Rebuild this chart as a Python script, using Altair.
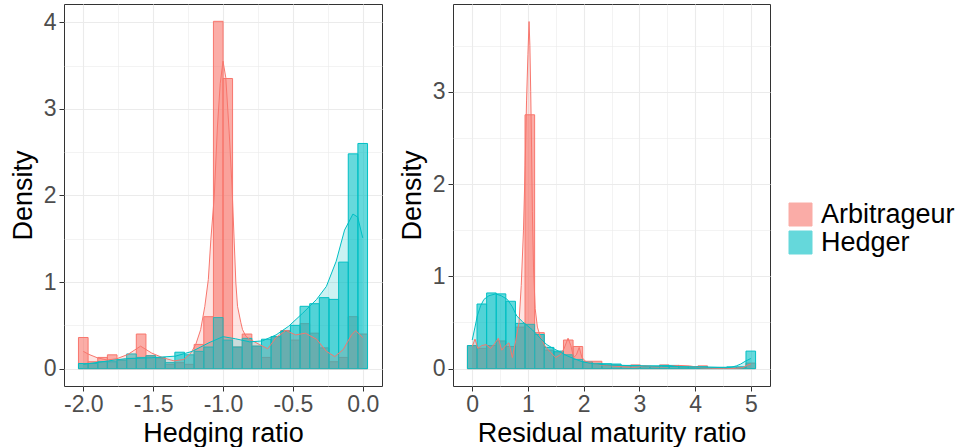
import altair as alt
import pandas as pd

groups = ["Arbitrageur", "Hedger"]
group_colors = ["#F8766D", "#00BFC4"]

# ---------------- Hedging ratio panel ----------------
hr_bin_centers = [-2.000, -1.931, -1.862, -1.793, -1.724, -1.655, -1.586, -1.517, -1.448, -1.379,
                  -1.310, -1.241, -1.172, -1.103, -1.034, -0.966, -0.897, -0.828, -0.759, -0.690,
                  -0.621, -0.552, -0.483, -0.414, -0.345, -0.276, -0.207, -0.138, -0.069, 0.000]
hr_arb = [0.36, 0.08, 0.13, 0.16, 0.10, 0.12, 0.40, 0.15, 0.12, 0.05,
          0.07, 0.05, 0.28, 0.60, 4.01, 3.35, 0.25, 0.40, 0.26, 0.13,
          0.37, 0.44, 0.33, 0.52, 0.41, 0.24, 0.08, 0.13, 0.60, 0.40]
hr_hed = [0.06, 0.06, 0.08, 0.08, 0.10, 0.17, 0.13, 0.15, 0.13, 0.07,
          0.19, 0.16, 0.20, 0.25, 0.59, 0.33, 0.25, 0.35, 0.26, 0.34,
          0.37, 0.43, 0.50, 0.72, 0.75, 0.82, 0.80, 1.23, 2.48, 2.60]

hr_arb_dens_x = [-2.0, -1.96, -1.90, -1.83, -1.76, -1.68, -1.59, -1.51, -1.43, -1.35,
                 -1.28, -1.23, -1.195, -1.16, -1.13, -1.105, -1.087, -1.063, -1.04, -1.02,
                 -1.0, -0.98, -0.955, -0.936, -0.908, -0.896, -0.872, -0.86, -0.836, -0.81,
                 -0.74, -0.68, -0.62, -0.55, -0.48, -0.41, -0.33, -0.26, -0.20, -0.14,
                 -0.08, -0.05, 0.0]
hr_arb_dens_y = [0.20, 0.165, 0.126, 0.10, 0.115, 0.165, 0.26, 0.18, 0.126, 0.09,
                 0.107, 0.18, 0.28, 0.45, 0.72, 1.03, 1.49, 1.98, 2.79, 3.29,
                 3.55, 3.36, 2.71, 2.12, 0.99, 0.72, 0.53, 0.45, 0.375, 0.34,
                 0.28, 0.23, 0.36, 0.44, 0.39, 0.41, 0.34, 0.20, 0.14, 0.22,
                 0.39, 0.44, 0.36]
hr_hed_dens_x = [-2.0, -1.82, -1.70, -1.51, -1.34, -1.22, -1.10, -1.0, -0.91, -0.81,
                 -0.72, -0.62, -0.53, -0.43, -0.33, -0.26, -0.19, -0.13, -0.07, -0.036, 0.0]
hr_hed_dens_y = [0.05, 0.09, 0.115, 0.126, 0.145, 0.20, 0.30, 0.37, 0.345, 0.31,
                 0.32, 0.39, 0.49, 0.64, 0.80, 0.95, 1.24, 1.60, 1.785, 1.75, 1.51]

# ---------------- Residual maturity ratio panel ----------------
rm_bin_centers = [0.000, 0.172, 0.345, 0.517, 0.690, 0.862, 1.034, 1.207, 1.379, 1.552,
                  1.724, 1.897, 2.069, 2.241, 2.414, 2.586, 2.759, 2.931, 3.103, 3.276,
                  3.448, 3.621, 3.793, 3.966, 4.138, 4.310, 4.483, 4.655, 4.828, 5.000]
rm_arb = [0.25, 0.22, 0.25, 0.30, 0.24, 0.45, 2.75, 0.39, 0.20, 0.18,
          0.31, 0.24, 0.08, 0.08, 0.04, 0.04, 0.03, 0.04, 0.02, 0.02,
          0.04, 0.03, 0.01, 0.02, 0.03, 0.005, 0.005, 0.005, 0.01, 0.06]
rm_hed = [0.25, 0.70, 0.82, 0.81, 0.73, 0.49, 0.48, 0.37, 0.23, 0.19,
          0.15, 0.10, 0.07, 0.057, 0.054, 0.05, 0.035, 0.035, 0.03, 0.03,
          0.035, 0.035, 0.02, 0.02, 0.02, 0.015, 0.015, 0.02, 0.02, 0.19]

rm_arb_dens_x = [0.0, 0.05, 0.1, 0.17, 0.25, 0.33, 0.40, 0.47, 0.53, 0.60,
                 0.66, 0.72, 0.78, 0.84, 0.88, 0.92, 0.95, 0.975, 1.0, 1.02,
                 1.035, 1.05, 1.065, 1.08, 1.10, 1.13, 1.17, 1.22, 1.30, 1.40,
                 1.50, 1.58, 1.65, 1.72, 1.77, 1.82, 1.87, 1.92, 1.97, 2.05,
                 2.15, 2.3, 2.5, 2.7, 2.9, 3.1, 3.3, 3.5, 3.7, 3.9,
                 4.1, 4.3, 4.5, 4.7, 4.85, 4.95, 5.0]
rm_arb_dens_y = [0.24, 0.32, 0.22, 0.25, 0.26, 0.22, 0.27, 0.33, 0.20, 0.25,
                 0.28, 0.12, 0.30, 0.50, 0.90, 1.50, 2.20, 2.90, 3.40, 3.76,
                 3.50, 3.00, 2.40, 1.70, 1.10, 0.65, 0.45, 0.35, 0.25, 0.18,
                 0.12, 0.15, 0.22, 0.33, 0.25, 0.12, 0.15, 0.23, 0.12, 0.07,
                 0.06, 0.04, 0.03, 0.02, 0.015, 0.03, 0.02, 0.02, 0.035, 0.03,
                 0.01, 0.005, 0.003, 0.003, 0.01, 0.04, 0.05]
rm_hed_dens_x = [0.0, 0.05, 0.09, 0.15, 0.21, 0.30, 0.42, 0.52, 0.63, 0.72,
                 0.80, 0.90, 0.98, 1.08, 1.16, 1.25, 1.34, 1.45, 1.58, 1.70,
                 1.82, 1.95, 2.12, 2.41, 2.7, 3.01, 3.4, 3.9, 4.3, 4.56,
                 4.65, 4.74, 4.82, 4.9, 5.0]
rm_hed_dens_y = [0.31, 0.45, 0.57, 0.68, 0.75, 0.79, 0.81, 0.79, 0.75, 0.67,
                 0.57, 0.51, 0.47, 0.42, 0.37, 0.31, 0.26, 0.22, 0.18, 0.14,
                 0.11, 0.08, 0.057, 0.04, 0.035, 0.03, 0.025, 0.02, 0.015, 0.01,
                 0.015, 0.03, 0.05, 0.08, 0.11]

FONT = "Liberation Sans"


def bars_frame(centers, arb, hed, half):
    rows = []
    for g, vals in zip(groups, [arb, hed]):
        for c, v in zip(centers, vals):
            rows.append({"group": g, "x0": c - half, "x1": c + half, "value": v})
    return pd.DataFrame(rows)


def dens_frame(ax, ay, hx, hy):
    rows = []
    for g, xs, ys in zip(groups, [ax, hx], [ay, hy]):
        for x, y in zip(xs, ys):
            rows.append({"group": g, "x0": x, "value": y})
    return pd.DataFrame(rows)


def minor_test(step):
    return f"abs(datum.value / {step} - round(datum.value / {step})) > 0.000001"


def panel(bars, dens, xdom, ydom, xvals, xstep, xlabel, yvals, xtitle, legend, w, h):
    col = alt.Scale(domain=groups, range=group_colors)
    xscale = alt.Scale(domain=xdom, nice=False, zero=False)
    yscale = alt.Scale(domain=ydom, nice=False, zero=False)
    xaxis = alt.Axis(
        values=xvals, title=xtitle, labelExpr=xlabel,
        labelFlush=False, labelOverlap=False,
        tickOpacity={"condition": {"test": minor_test(xstep), "value": 0}, "value": 1},
        gridWidth={"condition": {"test": minor_test(xstep), "value": 0.6}, "value": 1.1},
    )
    yaxis = alt.Axis(
        values=yvals, title="Density",
        labelExpr="abs(datum.value - round(datum.value)) < 0.000001 ? format(datum.value, 'd') : ''",
        labelOverlap=False,
        tickOpacity={"condition": {"test": minor_test(1), "value": 0}, "value": 1},
        gridWidth={"condition": {"test": minor_test(1), "value": 0.6}, "value": 1.1},
    )
    X = alt.X("x0:Q", scale=xscale, axis=xaxis)
    Y = alt.Y("value:Q", scale=yscale, axis=yaxis, stack=None)
    b = alt.Chart(bars).mark_rect(fillOpacity=0.6, strokeWidth=1).encode(
        x=X,
        x2="x1:Q",
        y=Y,
        y2=alt.datum(0),
        fill=alt.Fill("group:N", scale=col, legend=legend),
        stroke=alt.Stroke("group:N", scale=col, legend=None),
    )
    a = alt.Chart(dens).mark_area(fillOpacity=0.2).encode(
        x=X, y=Y,
        fill=alt.Fill("group:N", scale=col, legend=None),
    )
    l = alt.Chart(dens).mark_line(strokeWidth=1).encode(
        x=X, y=Y,
        stroke=alt.Stroke("group:N", scale=col, legend=None),
    )
    return alt.layer(b, a, l).properties(width=w, height=h)


left = panel(
    bars_frame(hr_bin_centers, hr_arb, hr_hed, 1 / 29),
    dens_frame(hr_arb_dens_x, hr_arb_dens_y, hr_hed_dens_x, hr_hed_dens_y),
    [-2.138, 0.138], [-0.2, 4.21],
    [-2.0, -1.75, -1.5, -1.25, -1.0, -0.75, -0.5, -0.25, 0.0], 0.5,
    "abs(datum.value * 2 - round(datum.value * 2)) < 0.000001 ? "
    "(datum.value < -0.000001 ? '-' + format(abs(datum.value), '.1f') : format(abs(datum.value), '.1f')) : ''",
    [0, 0.5, 1, 1.5, 2, 2.5, 3, 3.5, 4],
    "Hedging ratio", None, 318, 382,
)

legend = alt.Legend(
    title=None, orient="none", legendX=334, legendY=197,
    symbolType="square", symbolSize=529, symbolStrokeWidth=1, symbolOpacity=0.6,
    labelFontSize=27, labelColor="black", labelFont=FONT, labelOffset=7,
    labelLimit=300, rowPadding=0, padding=0,
)

right = panel(
    bars_frame(rm_bin_centers, rm_arb, rm_hed, 2.5 / 29),
    dens_frame(rm_arb_dens_x, rm_arb_dens_y, rm_hed_dens_x, rm_hed_dens_y),
    [-0.345, 5.345], [-0.188, 3.95],
    [0, 0.5, 1, 1.5, 2, 2.5, 3, 3.5, 4, 4.5, 5], 1,
    "abs(datum.value - round(datum.value)) < 0.000001 ? format(datum.value, 'd') : ''",
    [0, 0.5, 1, 1.5, 2, 2.5, 3, 3.5],
    "Residual maturity ratio", legend, 317, 382,
)

chart = (
    alt.hconcat(left, right, spacing=14)
    .resolve_scale(fill="independent", stroke="independent")
    .properties(padding={"left": 8, "top": 3, "right": 0, "bottom": 0}, background="white")
    .configure_view(stroke="#333333", strokeWidth=1)
    .configure_axis(
        labelFont=FONT, labelFontSize=23, labelColor="#4D4D4D",
        titleFont=FONT, titleFontSize=27, titleColor="black", titleFontWeight="normal",
        tickColor="#333333", tickSize=5, tickWidth=1,
        gridColor="#EBEBEB", domain=False,
    )
    .configure_axisX(labelPadding=2, titlePadding=4)
    .configure_axisY(labelPadding=3, titlePadding=6)
)

chart.save("out.html", embed_options={"renderer": "svg", "actions": False})
